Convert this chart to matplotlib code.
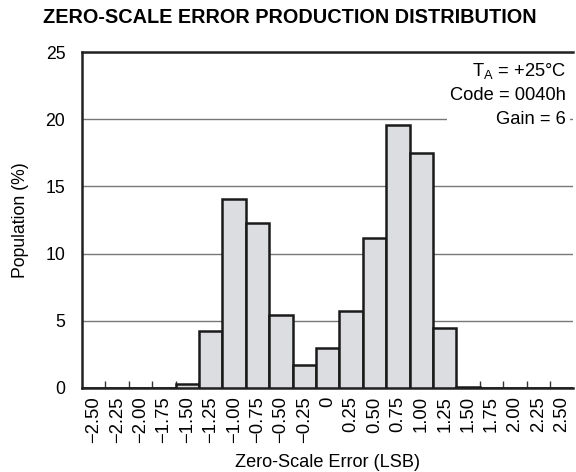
import matplotlib.pyplot as plt
import numpy as np

plt.rcParams['font.family'] = ['Liberation Sans', 'DejaVu Sans']

# Zero-scale error bins (LSB) and population share per bin (%)
bins = ['-2.50', '-2.25', '-2.00', '-1.75', '-1.50', '-1.25', '-1.00', '-0.75',
        '-0.50', '-0.25', '0', '0.25', '0.50', '0.75', '1.00', '1.25', '1.50',
        '1.75', '2.00', '2.25', '2.50']
population = [0, 0, 0, 0, 0.32, 4.25, 14.05, 12.3, 5.47, 1.7, 3.0, 5.75, 11.13,
              19.55, 17.47, 4.47, 0.1, 0, 0, 0, 0]

yticks = [0, 5, 10, 15, 20, 25]

fig = plt.figure(figsize=(5.76, 4.72), dpi=100)
ax = fig.add_axes([0.1424, 0.178, 0.8531, 0.7115])

x = np.arange(len(bins))
ax.bar(x, population, width=1.0, color='#dcdde0', edgecolor='#1a1a1a',
       linewidth=1.8, zorder=3)

ax.set_xlim(-0.5, len(bins) - 0.5)
ax.set_ylim(0, 25)

ax.set_yticks(yticks)
ax.set_yticklabels([str(v) for v in yticks], fontsize=12.7)
ax.tick_params(axis='y', length=0, pad=12)

labels = [b.replace('-', '\u2212') for b in bins]
ax.set_xticks(x)
ax.set_xticklabels(labels, rotation=90, fontsize=13.3)
ax.set_xticks(x[1:] - 0.5, minor=True)
ax.tick_params(axis='x', which='major', length=0, pad=6)
ax.tick_params(axis='x', which='minor', direction='in', length=5, width=1,
               color='#333333')

ax.yaxis.grid(True, color='#777777', linewidth=1.0, zorder=1)
ax.set_axisbelow(True)

for side in ['left', 'bottom', 'top']:
    ax.spines[side].set_linewidth(1.8)
    ax.spines[side].set_color('#222222')
ax.spines['right'].set_visible(False)

ax.set_ylabel('Population (%)', fontsize=12.7, labelpad=12)
ax.set_xlabel('Zero-Scale Error (LSB)', fontsize=13.1, labelpad=8)

fig.suptitle('ZERO-SCALE ERROR PRODUCTION DISTRIBUTION', fontsize=14.3,
             fontweight='bold', x=0.503, y=0.982)

ax.text(0.985, 0.975, 'T$_\\mathregular{A}$ = +25°C\nCode = 0040h\nGain = 6',
        transform=ax.transAxes, ha='right', va='top', fontsize=13.2,
        linespacing=1.5, zorder=5,
        bbox=dict(facecolor='white', edgecolor='none', pad=2.5))

fig.savefig('out.png', dpi=100)
